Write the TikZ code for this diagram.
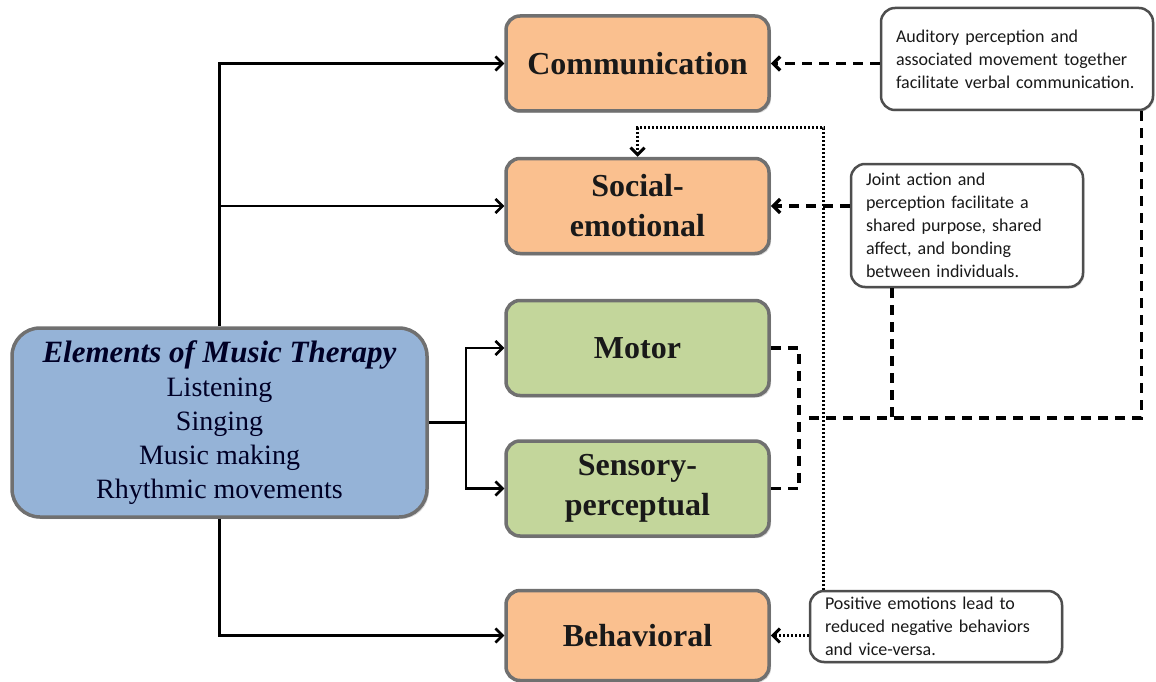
\documentclass[tikz,border=0pt]{standalone}
\usepackage{fontspec}
\setmainfont{Liberation Serif}
\newfontfamily\notefont{Carlito}
\usetikzlibrary{shadows,arrows.meta}
\definecolor{peach}{HTML}{FAC08F}
\definecolor{sage}{HTML}{C3D69B}
\definecolor{steel}{HTML}{95B3D7}
\definecolor{rim}{HTML}{707070}
\begin{document}
\begin{tikzpicture}[x=1pt,y=-1pt,>={Straight Barb[length=7pt,width=14pt]},
	area/.style={rectangle,rounded corners=14pt,draw=rim,line width=3.5pt,minimum width=263pt,minimum height=95pt,inner sep=2pt,align=center,text=black!90,font=\fontsize{32}{40}\selectfont\bfseries,drop shadow={shadow xshift=2pt,shadow yshift=-2pt,opacity=0.3}},
	note/.style={rectangle,rounded corners=14pt,draw=rim!70!black,line width=2.5pt,fill=white,align=left,inner xsep=15pt,inner ysep=4pt,text=black!90,font=\notefont\fontsize{18}{23}\selectfont,drop shadow={shadow xshift=1.5pt,shadow yshift=-1.5pt,opacity=0.25}},
	link/.style={line width=2.5pt,->},
	hint/.style={line width=3.5pt,dash pattern=on 10pt off 7pt},
	dotlink/.style={line width=3pt,dash pattern=on 2pt off 2pt}]
	\useasboundingbox (0,0) rectangle (1156,682);
		\node[area,fill=steel,minimum width=415pt,minimum height=189pt,rounded corners=28pt,text=black!85!blue,font=\fontsize{28}{34}\selectfont] (m) at (219.5,422.5)
			{{\fontsize{31}{34}\selectfont\bfseries\itshape Elements of Music Therapy}\\Listening\\Singing\\Music making\\Rhythmic movements};
		\node[area,fill=peach] (c1) at (637.5,63.5) {Communication};
		\node[area,fill=peach] (c2) at (637.5,206) {Social-\\emotional};
		\node[area,fill=sage] (c3) at (637.5,348) {Motor};
		\node[area,fill=sage] (c4) at (637.5,488.5) {Sensory-\\perceptual};
		\node[area,fill=peach,minimum height=90pt] (c5) at (637.5,635.5) {Behavioral};
		\node[note,text width=242pt,minimum height=102pt] (n1) at (1017,59)
			{Auditory perception and\\associated movement together\\facilitate verbal communication.};
		\node[note,text width=202pt,minimum height=123pt] (n2) at (967,225.5)
			{Joint action and\\perception facilitate a\\shared purpose, shared\\affect, and bonding\\between individuals.};
		\node[note,text width=222pt,minimum height=71pt] (n3) at (936,626.5)
			{Positive emotions lead to\\reduced negative behaviors\\and vice-versa.};
		\coordinate (s) at (466,422.5);
		\coordinate (j) at (799,418);
		\coordinate (k) at (808,418);
		\coordinate (q) at (637.5,128);
		% solid links
		\draw[link] (m.north) |- (c1.west);
		\draw[link] (m.north |- c2.west) -- (c2.west);
		\draw[link] (m.south) |- (c5.west);
		\draw[line width=2.5pt] (m.east) -- (s);
		\draw[link] (s) |- (c3.west);
		\draw[link] (s) |- (c4.west);
		% dashed links
		\draw[hint,->] (c1.east -| n1.west) -- (c1.east);
		\draw[hint,->] (c2.east -| n2.west) -- (c2.east);
		\draw[hint] (c3.east) -| (j) |- (c4.east);
		\draw[hint] ([xshift=-13pt]n1.south east) |- (k);
		\draw[hint] ([xshift=42pt]n2.south west) -- ([xshift=42pt]n2.south west |- k);
		% dotted links
		\draw[dotlink,->] (c5.east -| n3.west) -- (c5.east);
		\draw[dotlink,->] ([xshift=15pt]n3.north west) |- (q) -- (c2.north);
	\end{tikzpicture}
\end{document}
